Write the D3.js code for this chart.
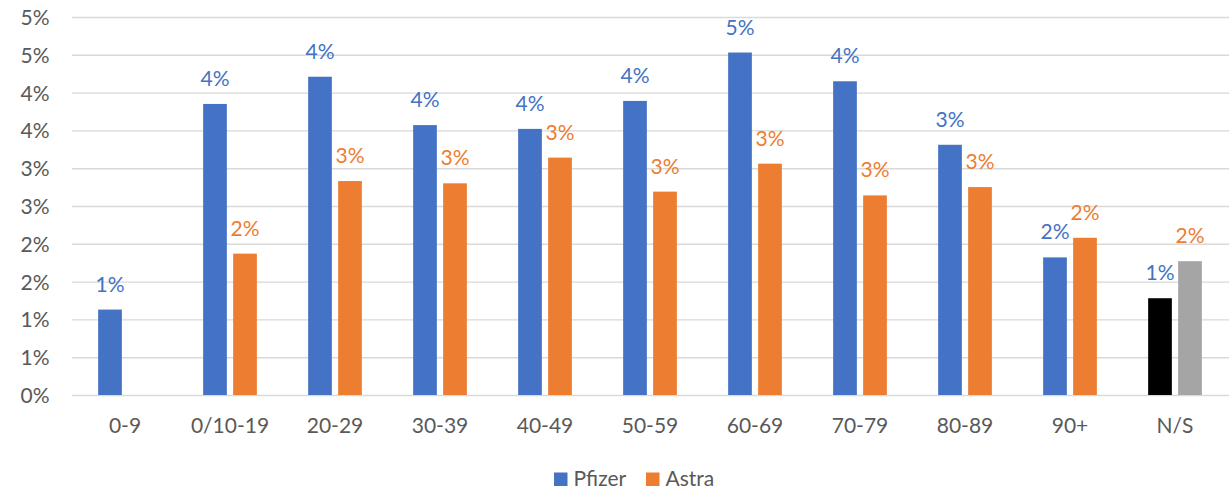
<!DOCTYPE html>
<html>
<head>
<meta charset="utf-8">
<script src="https://cdn.jsdelivr.net/npm/d3@7"></script>
<style>
  html, body { margin: 0; padding: 0; background: #fff; }
  svg { display: block; font-family: Lato, "Open Sans", sans-serif; }
</style>
</head>
<body>
<svg id="chart" width="1229" height="501"></svg>
<script>
// ---- data ----
const categories = ["0-9", "0/10-19", "20-29", "30-39", "40-49", "50-59", "60-69", "70-79", "80-89", "90+", "N/S"];
const seriesNames = ["Pfizer", "Astra"];
const pfizer = [1.13, 3.85, 4.21, 3.57, 3.52, 3.89, 4.53, 4.15, 3.31, 1.82, 1.28];
const astra  = [null, 1.87, 2.83, 2.80, 3.14, 2.69, 3.06, 2.64, 2.75, 2.08, 1.77];
const yTickValues = [0, 0.5, 1, 1.5, 2, 2.5, 3, 3.5, 4, 4.5, 5];
const yTickLabels = ["0%", "1%", "1%", "2%", "2%", "3%", "3%", "4%", "4%", "5%", "5%"];

// ---- styles ----
const seriesColors = { Pfizer: "#4472C4", Astra: "#ED7D31" };
const specialColors = { Pfizer: "#000000", Astra: "#A5A5A5" }; // N/S bars
const labelColors = { Pfizer: "#4472C4", Astra: "#ED7D31" };
const textGrey = "#595959";
const gridColor = "#D9D9D9";
const fontSize = 21;

const svg = d3.select("#chart");
const plot = { left: 72, right: 1229, top: 17, bottom: 395 };

const x0 = d3.scaleBand().domain(categories).range([72.5, 1227.5]).paddingInner(0).paddingOuter(0);
const groupW = 53.7;
const x1 = d3.scaleBand().domain(seriesNames).range([0, groupW]).paddingInner(0.21).paddingOuter(0);
const y = d3.scaleLinear().domain([0, 5]).range([plot.bottom, plot.top]);

// y axis with gridlines
const yAxis = d3.axisLeft(y)
  .tickValues(yTickValues)
  .tickFormat((d, i) => yTickLabels[i])
  .tickSizeInner(-(plot.right - plot.left))
  .tickSizeOuter(0)
  .tickPadding(22.5);

const gy = svg.append("g").attr("transform", `translate(${plot.left},0)`).call(yAxis);
gy.select(".domain").remove();
gy.selectAll(".tick line").attr("stroke", gridColor).attr("stroke-width", 1.4);
gy.selectAll(".tick text")
  .attr("fill", textGrey)
  .attr("font-size", fontSize)
  .attr("font-family", "Lato, 'Open Sans', sans-serif")
  .attr("dy", "0.36em");

// x axis labels
const xAxis = d3.axisBottom(x0).tickSize(0).tickPadding(0);
const gx = svg.append("g").attr("transform", `translate(0,${plot.bottom})`).call(xAxis);
gx.select(".domain").remove();
gx.selectAll(".tick text")
  .attr("fill", textGrey)
  .attr("font-size", fontSize)
  .attr("font-family", "Lato, 'Open Sans', sans-serif")
  .attr("y", 38.3)
  .attr("dy", 0);

// bars
const rows = categories.map((c, i) => ({ cat: c, values: [
  { key: "Pfizer", v: pfizer[i] },
  { key: "Astra", v: astra[i] }
]}));

const groups = svg.append("g").selectAll("g")
  .data(rows)
  .join("g")
  .attr("transform", d => `translate(${x0(d.cat) + (x0.bandwidth() - groupW) / 2},0)`);

groups.selectAll("rect")
  .data(d => d.values.filter(e => e.v != null).map(e => ({ ...e, cat: d.cat })))
  .join("rect")
  .attr("x", d => x1(d.key))
  .attr("width", x1.bandwidth())
  .attr("y", d => y(d.v))
  .attr("height", d => y(0) - y(d.v))
  .attr("fill", d => d.cat === "N/S" ? specialColors[d.key] : seriesColors[d.key]);

groups.selectAll("text.lbl")
  .data(d => d.values.filter(e => e.v != null))
  .join("text")
  .attr("class", "lbl")
  .attr("x", d => x1(d.key) + x1.bandwidth() / 2)
  .attr("y", d => y(d.v) - 18)
  .attr("text-anchor", "middle")
  .attr("font-size", fontSize)
  .attr("fill", d => labelColors[d.key])
  .text(d => Math.round(d.v) + "%");

// legend
const legend = svg.append("g");
const legendItems = [
  { key: "Pfizer", x: 554 },
  { key: "Astra", x: 646 }
];
legendItems.forEach(it => {
  legend.append("rect").attr("x", it.x).attr("y", 472.5).attr("width", 13.5).attr("height", 13.5)
    .attr("fill", seriesColors[it.key]);
  legend.append("text").attr("x", it.x + 19.5).attr("y", 486)
    .attr("font-size", fontSize).attr("fill", textGrey).text(it.key);
});
</script>
</body>
</html>
